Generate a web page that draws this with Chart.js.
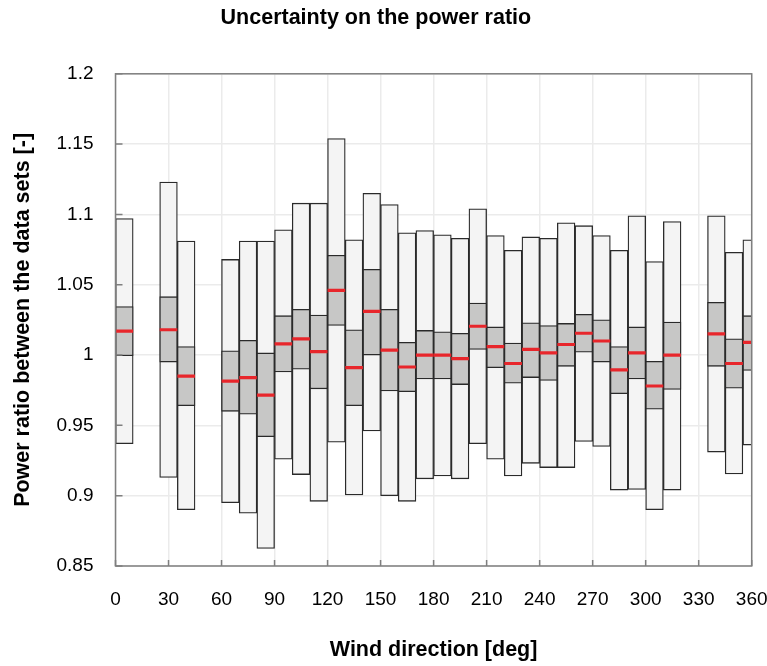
<!DOCTYPE html>
<html lang="en">
<head>
    <meta charset="UTF-8">
    <title>Uncertainty on the power ratio</title>
    <script src="https://cdn.jsdelivr.net/npm/chart.js"></script>
    <style>
        html, body {
            margin: 0;
            padding: 0;
            background: #ffffff;
        }
        .wrap {
            width: 767px;
            height: 666px;
        }
    </style>
</head>
<body>
    <div class="wrap"><canvas id="ratioChart"></canvas></div>

    <script>
        // wind direction sectors (deg) and power ratio statistics per sector
        const directions = [5, 30, 40, 65, 75, 85, 95, 105, 115, 125, 135, 145, 155, 165, 175, 185,
                            195, 205, 215, 225, 235, 245, 255, 265, 275, 285, 295, 305, 315, 340, 350, 360];
        const outerHigh = [1.097, 1.123, 1.081, 1.068, 1.081, 1.081, 1.089, 1.108, 1.108, 1.154, 1.082, 1.115, 1.107, 1.087, 1.0885, 1.0855,
                           1.083, 1.104, 1.085, 1.0745, 1.084, 1.083, 1.094, 1.092, 1.085, 1.0745, 1.099, 1.0665, 1.095, 1.099, 1.073, 1.082];
        const innerHigh = [1.0345, 1.0415, 1.006, 1.003, 1.0105, 1.0015, 1.028, 1.0325, 1.0285, 1.071, 1.018, 1.061, 1.0325, 1.009, 1.0175, 1.0165,
                           1.0155, 1.037, 1.020, 1.0085, 1.023, 1.021, 1.0225, 1.029, 1.025, 1.006, 1.020, 0.9955, 1.0235, 1.0375, 1.0115, 1.028];
        const medians   = [1.017, 1.018, 0.985, 0.9815, 0.984, 0.9715, 1.008, 1.0115, 1.0025, 1.046, 0.991, 1.031, 1.0035, 0.9915, 1.000, 1.000,
                           0.9975, 1.0205, 1.006, 0.994, 1.004, 1.0015, 1.0075, 1.0155, 1.010, 0.9895, 1.0015, 0.978, 1.000, 1.015, 0.994, 1.009];
        const innerLow  = [0.9995, 0.995, 0.964, 0.960, 0.958, 0.942, 0.988, 0.990, 0.976, 1.021, 0.964, 1.000, 0.9745, 0.974, 0.983, 0.983,
                           0.979, 1.004, 0.991, 0.980, 0.984, 0.982, 0.992, 1.002, 0.995, 0.9725, 0.983, 0.9615, 0.9755, 0.992, 0.9765, 0.989];
        const outerLow  = [0.937, 0.913, 0.890, 0.895, 0.8875, 0.8625, 0.926, 0.915, 0.896, 0.938, 0.9005, 0.946, 0.900, 0.896, 0.912, 0.914,
                           0.912, 0.937, 0.926, 0.914, 0.923, 0.920, 0.920, 0.9385, 0.935, 0.904, 0.9045, 0.890, 0.904, 0.931, 0.9155, 0.936];

        const FONT = "'Liberation Sans', Arial, sans-serif";

        // frame round the plot + short inward tick marks
        const framePlugin = {
            id: 'frame',
            afterDatasetsDraw(chart) {
                const { ctx, chartArea: a, scales: { x, y } } = chart;
                ctx.save();
                ctx.strokeStyle = '#7f7f7f';
                ctx.lineWidth = 1.5;
                ctx.strokeRect(a.left, a.top, a.right - a.left, a.bottom - a.top);
                ctx.beginPath();
                y.ticks.forEach(t => {
                    const py = y.getPixelForValue(t.value);
                    ctx.moveTo(a.left, py);
                    ctx.lineTo(a.left + 7, py);
                });
                x.ticks.forEach(t => {
                    const px = x.getPixelForValue(t.value);
                    ctx.moveTo(px, a.bottom);
                    ctx.lineTo(px, a.bottom - 6);
                });
                ctx.stroke();
                ctx.restore();
            }
        };

        new Chart(document.getElementById('ratioChart'), {
            type: 'bar',
            data: {
                datasets: [
                    {
                        type: 'scatter',
                        label: 'Median',
                        data: directions.map((d, i) => ({ x: d, y: medians[i] })),
                        pointStyle: 'line',
                        pointRadius: 8.8,
                        pointHoverRadius: 8.8,
                        pointBorderWidth: 3.2,
                        borderColor: '#e8262b',
                        backgroundColor: '#e8262b',
                        clip: 0,
                        order: 0
                    },
                    {
                        label: 'Inner band',
                        data: directions.map((d, i) => ({ x: d, y: [innerLow[i], innerHigh[i]] })),
                        backgroundColor: '#c7c7c6',
                        borderColor: '#2a2a2a',
                        borderWidth: 1.3,
                        borderSkipped: false,
                        grouped: false,
                        barPercentage: 1,
                        categoryPercentage: 1,
                        clip: 0,
                        order: 1
                    },
                    {
                        label: 'Outer band',
                        data: directions.map((d, i) => ({ x: d, y: [outerLow[i], outerHigh[i]] })),
                        backgroundColor: '#f4f4f4',
                        borderColor: '#2a2a2a',
                        borderWidth: 1.3,
                        borderSkipped: false,
                        grouped: false,
                        barPercentage: 1,
                        categoryPercentage: 1,
                        clip: 0,
                        order: 2
                    }
                ]
            },
            plugins: [framePlugin],
            options: {
                responsive: true,
                maintainAspectRatio: false,
                animation: false,
                layout: {
                    padding: { left: 0, right: 15.3, top: 0, bottom: 0 }
                },
                plugins: {
                    legend: { display: false },
                    tooltip: { enabled: false },
                    title: {
                        display: true,
                        text: 'Uncertainty on the power ratio',
                        color: '#000',
                        font: { family: FONT, size: 21.5, weight: 'bold' },
                        padding: { top: 5, bottom: 43 }
                    }
                },
                scales: {
                    x: {
                        type: 'linear',
                        min: 0,
                        max: 360,
                        offset: false,
                        afterFit(scale) {
                            scale.height = 100;
                            scale.paddingLeft = 0;
                            scale.paddingRight = 0;
                        },
                        ticks: {
                            stepSize: 30,
                            padding: 22,
                            color: '#000',
                            font: { family: FONT, size: 19 }
                        },
                        grid: { color: '#ebebeb', lineWidth: 1.5, drawTicks: false, offset: false },
                        border: { display: false },
                        title: {
                            display: true,
                            text: 'Wind direction [deg]',
                            color: '#000',
                            font: { family: FONT, size: 21.5, weight: 'bold' },
                            padding: { top: 0, bottom: 3 }
                        }
                    },
                    y: {
                        min: 0.85,
                        max: 1.2,
                        afterFit(scale) {
                            scale.width = 115.5;
                            scale.paddingTop = 0;
                            scale.paddingBottom = 0;
                        },
                        ticks: {
                            stepSize: 0.05,
                            padding: 22,
                            color: '#000',
                            font: { family: FONT, size: 19 },
                            callback: v => String(Number(v.toFixed(2)))
                        },
                        grid: { color: '#ebebeb', lineWidth: 1.5, drawTicks: false },
                        border: { display: false },
                        title: {
                            display: true,
                            text: 'Power ratio between the data sets [-]',
                            color: '#000',
                            font: { family: FONT, size: 21.5, weight: 'bold' },
                            padding: { top: 10, bottom: 0 }
                        }
                    }
                }
            }
        });
    </script>
</body>
</html>
